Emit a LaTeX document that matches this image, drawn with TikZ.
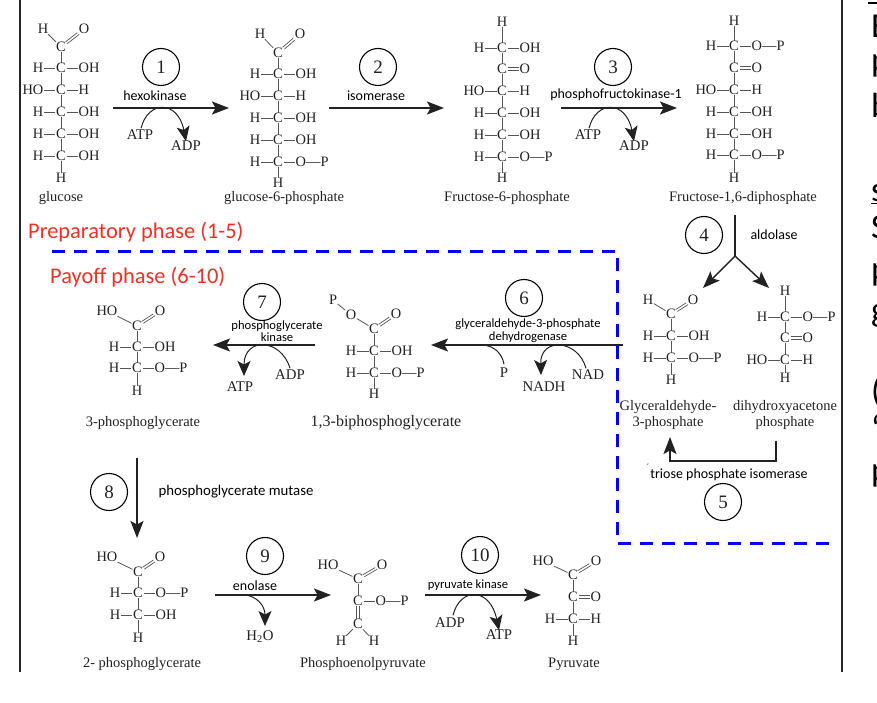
\documentclass[tikz,border=0pt]{standalone}
\usepackage{fontspec}
\setmainfont{Liberation Serif}
\newfontfamily\carl{Carlito}
\usetikzlibrary{arrows.meta}
\definecolor{ink}{HTML}{222222}
\definecolor{bondc}{HTML}{555555}
\definecolor{redt}{HTML}{EE3124}
\tikzset{
 atom/.style={inner sep=0.5pt,text=ink,font=\fontsize{14.4}{14.4}\selectfont,text height=9pt,text depth=0pt},
 bond/.style={draw=bondc,line width=0.8pt},
 cname/.style={inner sep=0pt,text=ink,font=\fontsize{14.5}{15.8}\selectfont,align=center},
 cnamewide/.style={inner sep=0pt,text=ink,font=\fontsize{16}{16}\selectfont,align=center},
 cofac/.style={inner sep=0pt,text=ink,font=\fontsize{14.8}{14.8}\selectfont,text height=9pt,text depth=0pt},
 enz/.style={inner sep=0pt,text=black,font=\carl\fontsize{12.6}{12.6}\selectfont,align=center},
 enzb/.style={inner sep=0pt,text=black,font=\carl\fontsize{14}{14}\selectfont,align=center},
 enzc/.style={inner sep=0pt,text=black,font=\carl\fontsize{14.8}{14.8}\selectfont,align=center},
 stepc/.style={circle,draw=black,line width=1.1pt,minimum size=37pt,inner sep=0pt,text=ink,font=\fontsize{19}{19}\selectfont},
 main/.style={draw=ink,line width=1.4pt,-{Stealth[length=17pt,width=13pt,inset=3.5pt]}},
 cof/.style={draw=ink,line width=1pt,-{Stealth[length=15pt,width=13pt,inset=3.5pt]}},
 cofn/.style={draw=ink,line width=1pt},
 phase/.style={inner sep=0pt,text=redt,anchor=base west,font=\carl\fontsize{22.4}{22.4}\selectfont},
 frag/.style={inner sep=0pt,text=black,anchor=base west,font=\carl\fontsize{35}{35}\selectfont},
 frame/.style={draw=black!85,line width=1.8pt},
 bluedash/.style={draw=blue,line width=3pt,dash pattern=on 13pt off 9pt},
}
\newcommand\dbl[4]{%
 \draw[bond,line width=0.7pt,transform canvas={shift={(#3pt,#4pt)}}] (#1)--(#2);
 \draw[bond,line width=0.7pt,transform canvas={shift={(-#3pt,-#4pt)}}] (#1)--(#2);
}
\newcommand\crow[5]{%
 \node[atom] (#1) at (#2,#3) {C};
 \node[atom,anchor=east] (#1L) at (#2-17,#3) {#4};
 \node[atom,anchor=west] (#1R) at (#2+17,#3) {#5};
 \draw[bond] (#1L)--(#1);
 \draw[bond] (#1)--(#1R);
}
\newcommand\cket[3]{%
 \node[atom] (#1) at (#2,#3) {C};
 \node[atom,anchor=west] (#1R) at (#2+17,#3) {O};
 \dbl{#1}{#1R}{0}{1.3}
}
\newcommand\ctop[8]{% name x y lefttext lx ly ox oy
 \node[atom] (#1) at (#2,#3) {C};
 \node[atom] (#1H) at (#5,#6) {#4};
 \node[atom] (#1O) at (#7,#8) {O};
 \draw[bond] (#1H)--(#1);
 \dbl{#1}{#1O}{0.9}{-0.9}
}
\newcommand\hcap[3]{\node[atom] (#1) at (#2,#3) {H};}
\newcommand\links[1]{\foreach \a/\b in {#1}{\draw[bond] (\a)--(\b);}}
\begin{document}
\begin{tikzpicture}[x=1pt,y=-1pt]
\useasboundingbox (0,0) rectangle (877,703);
\fill[white] (0,0) rectangle (877,703);
\clip (0,0) rectangle (877,703);

% slide frame
\coordinate (fa) at (20,0); \coordinate (fb) at (20,672);
\coordinate (fc) at (842,0); \coordinate (fd) at (842,672);
\draw[frame] (fa)--(fb); \draw[frame] (fc)--(fd);

% cut-off slide text at the right edge
\coordinate (ta) at (868,3); \coordinate (tb) at (877,3);
\draw[draw=black,line width=1.2pt] (ta)--(tb);
\node[frag] (f1) at (871,38) {E};
\node[frag] (f2) at (871,72) {p};
\node[frag] (f3) at (871,118) {b};
\node[frag] (f4) at (871,202) {\underline{s}};
\node[frag] (f5) at (871,238) {S};
\node[frag] (f6) at (871,280) {p};
\node[frag] (f7) at (871,321) {g};
\node[frag] (f8) at (871,402) {(};
\node[frag] (f9) at (871,440) {‘};
\node[frag] (f10) at (871,481) {p};

% glucose
\ctop{ga}{61}{47}{H}{43}{29}{84}{29}
\crow{gb}{61}{68}{H}{OH}
\crow{gc}{61}{90}{HO}{H}
\crow{gd}{61}{112}{H}{OH}
\crow{ge}{61}{134}{H}{OH}
\crow{gf}{61}{156}{H}{OH}
\hcap{gh}{61}{178}
\links{ga/gb,gb/gc,gc/gd,gd/ge,ge/gf,gf/gh}
\node[cname] (gname) at (61,198) {glucose};

% glucose-6-phosphate
\ctop{ha}{278}{53}{H}{260}{34}{300}{34}
\crow{hb}{278}{74}{H}{OH}
\crow{hc}{278}{96}{HO}{H}
\crow{hd}{278}{118}{H}{OH}
\crow{he}{278}{140}{H}{OH}
\crow{hf}{278}{162}{H}{O—P}
\hcap{hh}{278}{183}
\links{ha/hb,hb/hc,hc/hd,hd/he,he/hf,hf/hh}
\node[cname] (hname) at (284,198) {glucose-6-phosphate};

% fructose-6-phosphate
\hcap{ia}{502}{22}
\crow{ib}{502}{48}{H}{OH}
\cket{ic}{502}{69}
\crow{id}{502}{91}{HO}{H}
\crow{ie}{502}{113}{H}{OH}
\crow{if}{502}{135}{H}{OH}
\crow{ig}{502}{157}{H}{O—P}
\hcap{ih}{502}{178}
\links{ia/ib,ib/ic,ic/id,id/ie,ie/if,if/ig,ig/ih}
\node[cname] (iname) at (507,198) {Fructose-6-phosphate};

% fructose-1,6-diphosphate
\hcap{ja}{734}{21}
\crow{jb}{734}{46}{H}{O—P}
\cket{jc}{734}{68}
\crow{jd}{734}{90}{HO}{H}
\crow{je}{734}{112}{H}{OH}
\crow{jf}{734}{134}{H}{OH}
\crow{jg}{734}{155}{H}{O—P}
\hcap{jh}{734}{178}
\links{ja/jb,jb/jc,jc/jd,jd/je,je/jf,jf/jg,jg/jh}
\node[cname] (jname) at (743,198) {Fructose-1,6-diphosphate};

% glyceraldehyde-3-phosphate
\ctop{ka}{671}{314}{H}{648}{300}{693}{300}
\crow{kb}{671}{336}{H}{OH}
\crow{kc}{671}{358}{H}{O—P}
\hcap{kh}{671}{380}
\links{ka/kb,kb/kc,kc/kh}
\node[cname] (kname) at (668,415) {Glyceraldehyde-\\[0pt]3-phosphate};

% dihydroxyacetone phosphate
\hcap{la}{785}{291}
\crow{lb}{785}{317}{H}{O—P}
\cket{lc}{785}{338}
\crow{ld}{785}{360}{HO}{H}
\hcap{lh}{785}{378}
\links{la/lb,lb/lc,lc/ld,ld/lh}
\node[cname] (lname) at (785,415) {dihydroxyacetone\\[0pt]phosphate};

% 1,3-biphosphoglycerate
\ctop{ma}{374}{329}{O}{351}{315}{396}{314}
\node[atom] (mp) at (333,300) {P};
\draw[bond] (mp)--(maH);
\crow{mb}{374}{351}{H}{OH}
\crow{mc}{374}{373}{H}{O—P}
\hcap{mh}{374}{394}
\links{ma/mb,mb/mc,mc/mh}
\node[cnamewide] (mname) at (386,423) {1,3-biphosphoglycerate};

% 3-phosphoglycerate
\ctop{na}{137}{326}{HO}{107}{311}{160}{311}
\crow{nb}{137}{347}{H}{OH}
\crow{nc}{137}{368}{H}{O—P}
\hcap{nh}{137}{391}
\links{na/nb,nb/nc,nc/nh}
\node[cname] (nname) at (143,423) {3-phosphoglycerate};

% 2-phosphoglycerate
\ctop{oa}{138}{572}{HO}{107}{557}{160}{557}
\crow{ob}{138}{593}{H}{O—P}
\crow{oc}{138}{615}{H}{OH}
\hcap{oh}{138}{638}
\links{oa/ob,ob/oc,oc/oh}
\node[cname] (oname) at (142,664) {2- phosphoglycerate};

% phosphoenolpyruvate
\ctop{pa}{358}{579}{HO}{328}{565}{382}{565}
\node[atom] (pb) at (358,601) {C};
\node[atom,anchor=west] (pbR) at (375,601) {O—P};
\draw[bond] (pb)--(pbR);
\node[atom] (pc) at (358,624) {C};
\node[atom] (pu) at (341,641) {H};
\node[atom] (pv) at (374,641) {H};
\links{pa/pb,pc/pu,pc/pv}
\dbl{pb}{pc}{1.3}{0}
\node[cname] (pname) at (363,664) {Phosphoenolpyruvate};

% pyruvate
\ctop{qa}{573}{575}{HO}{543}{561}{596}{561}
\cket{qb}{573}{597}
\crow{qc}{573}{619}{H}{H}
\hcap{qh}{573}{641}
\links{qa/qb,qb/qc,qc/qh}
\node[cname] (qname) at (574,664) {Pyruvate};

% dashed phase border
\coordinate (da) at (52,251); \coordinate (db) at (617,251);
\coordinate (dc) at (617,543); \coordinate (dd) at (829,543);
\draw[bluedash] (da)--(db)--(dc)--(dd);

% phase labels
\node[phase] (ph1) at (28,239) {Preparatory phase (1-5)};
\node[phase] (ph2) at (50,283) {Payoff phase (6-10)};

% step circles
\node[stepc] (s1) at (161,67) {1};
\node[stepc] (s2) at (378,67) {2};
\node[stepc] (s3) at (613,67) {3};
\node[stepc] (s4) at (704,235) {4};
\node[stepc] (s5) at (723,502) {5};
\node[stepc] (s6) at (524,298) {6};
\node[stepc] (s7) at (262,302) {7};
\node[stepc] (s8) at (109,492) {8};
\node[stepc] (s9) at (265,556) {9};
\node[stepc] (s10) at (480,555) {10};

% step 1
\coordinate (a1s) at (113,108); \coordinate (a1e) at (229,108);
\draw[main] (a1s)--(a1e);
\node[enzb] (e1) at (155,96) {hexokinase};
\node[cofac] (c1a) at (140,135) {ATP};
\node[cofac] (c1b) at (186,146) {ADP};
\draw[cof] (c1a.north)+(1,-2) .. controls (148,100) and (178,100) .. (c1b.north);

% step 2
\coordinate (a2s) at (329,108); \coordinate (a2e) at (444,108);
\draw[main] (a2s)--(a2e);
\node[enzb] (e2) at (376,96) {isomerase};

% step 3
\coordinate (a3s) at (561,108); \coordinate (a3e) at (677,108);
\draw[main] (a3s)--(a3e);
\node[enzb] (e3) at (616,95) {phosphofructokinase-1};
\node[cofac] (c3a) at (588,135) {ATP};
\node[cofac] (c3b) at (634,146) {ADP};
\draw[cof] (c3a.north)+(1,-2) .. controls (596,100) and (626,100) .. (c3b.north);

% step 4
\coordinate (a4s) at (735,215); \coordinate (a4m) at (735,256);
\coordinate (a4l) at (703,288); \coordinate (a4r) at (769,288);
\draw[draw=ink,line width=1.2pt] (a4s)--(a4m);
\draw[main] (a4m)--(a4l);
\draw[main] (a4m)--(a4r);
\node[enzb] (e4) at (774,235) {aldolase};

% step 5
\coordinate (a5s) at (776,441); \coordinate (a5a) at (776,461);
\coordinate (a5b) at (670,461); \coordinate (a5e) at (670,437);
\draw[main] (a5s)--(a5a)--(a5b)--(a5e);
\node[enzb] (e5) at (729,475) {triose phosphate isomerase};
\node[enz,text=gray] (e5m) at (648,468) {´};

% step 6
\coordinate (a6s) at (623,345); \coordinate (a6e) at (431,345);
\draw[main] (a6s)--(a6e);
\node[enz] (e6) at (528,331) {glyceraldehyde-3-phosphate\\dehydrogenase};
\node[cofac] (c6p) at (504,373) {P};
\node[cofac] (c6a) at (588,375) {NAD};
\node[cofac] (c6b) at (544,387) {NADH};
\coordinate (c6l) at (483,345);
\draw[cofn] (c6p.north)+(0,-4) .. controls (502,353) and (494,346) .. (c6l);
\draw[cof] (c6a.north)+(-2,-2) .. controls (578,339) and (540,337) .. (541,375);

% step 7
\coordinate (a7s) at (315,345); \coordinate (a7e) at (213,345);
\draw[main] (a7s)--(a7e);
\node[enz] (e7) at (277,331) {phosphoglycerate\\kinase};
\node[cofac] (c7a) at (290,375) {ADP};
\node[cofac] (c7b) at (240,387) {ATP};
\draw[cof] (c7a.north)+(0,-2) .. controls (281,338) and (244,337) .. (244,376);

% step 8
\coordinate (a8s) at (137,458); \coordinate (a8e) at (137,538);
\draw[main] (a8s)--(a8e);
\node[enzc] (e8) at (236,492) {phosphoglycerate mutase};

% step 9
\coordinate (a9s) at (215,595); \coordinate (a9e) at (331,595);
\draw[main] (a9s)--(a9e);
\node[enzb] (e9) at (255,586) {enolase};
\node[cofac] (c9a) at (260,636) {H\textsubscript{2}O};
\coordinate (c9s) at (245,595);
\draw[cof] (c9s) .. controls (256,596) and (265,605) .. (265,626);

% step 10
\coordinate (a10s) at (425,595); \coordinate (a10e) at (541,595);
\draw[main] (a10s)--(a10e);
\node[enz] (e10) at (468,585) {pyruvate kinase};
\node[cofac] (c10a) at (450,623) {ADP};
\node[cofac] (c10b) at (499,635) {ATP};
\draw[cof] (c10a.north)+(3,-3) .. controls (460,587) and (490,587) .. (c10b.north);
\end{tikzpicture}
\end{document}
